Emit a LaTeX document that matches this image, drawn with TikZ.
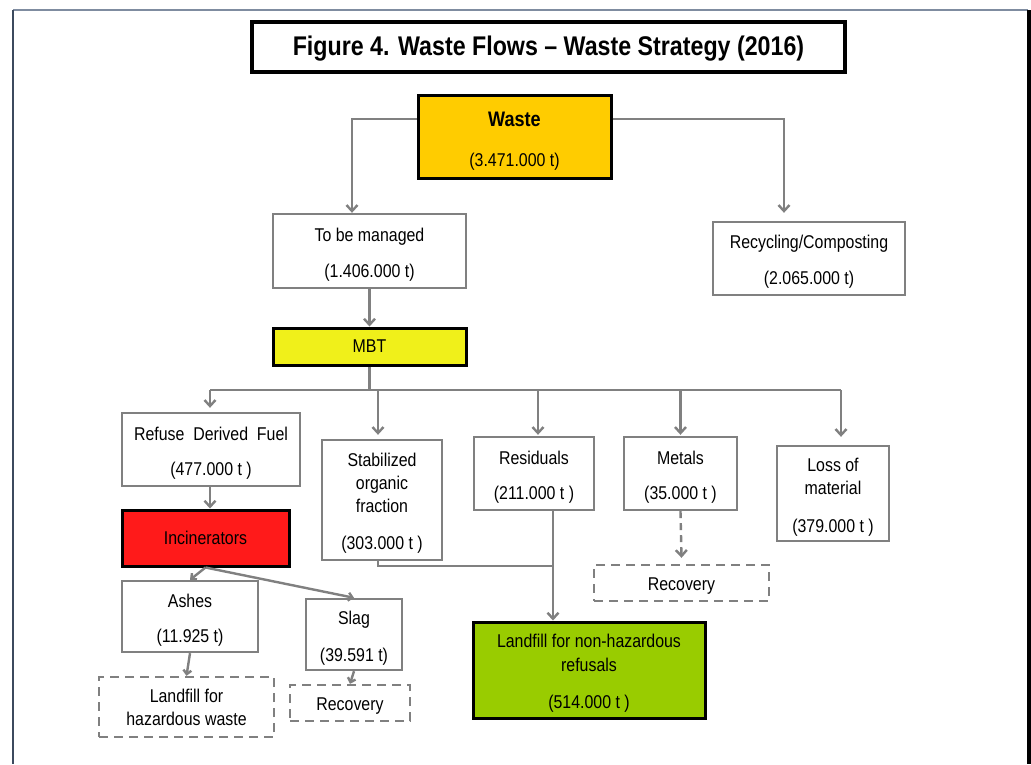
\documentclass[tikz,border=0pt]{standalone}
\usepackage{fontspec}
\setmainfont{Liberation Sans}[FakeStretch=0.86]
\usetikzlibrary{arrows.meta,calc}
\definecolor{lgray}{RGB}{128,128,128}
\definecolor{wasteor}{RGB}{255,204,0}
\definecolor{mbty}{RGB}{240,240,26}
\definecolor{incred}{RGB}{255,26,26}
\definecolor{lgreen}{RGB}{153,204,0}
\definecolor{framel}{RGB}{60,74,94}
\definecolor{framet}{RGB}{127,140,160}
\newcommand{\myts}{\rule{0pt}{20pt}}
\begin{document}
\begin{tikzpicture}[x=1pt,y=-1pt,
  box/.style={draw=lgray,line width=2.4pt,fill=white,inner sep=0pt,align=center,
    font=\fontsize{18.5}{20}\selectfont},
  dbox/.style={box,dash pattern=on 9pt off 6pt},
  hbox/.style={box,draw=black,line width=3pt},
  conn/.style={draw=lgray,line width=2.4pt},
  arr/.style={conn,-{Straight Barb[length=6pt,width=11pt]}},
  sarr/.style={conn,-{Straight Barb[length=4pt,width=8pt]}}]
\useasboundingbox (0,0) rectangle (1031,764);
\fill[white] (0,0) rectangle (1031,764);
% outer frame
\draw[framet,line width=1.5pt] (13,10) -- (1028,10);
\draw[framel,line width=2pt] (13,10) -- (13,764);
\draw[black,line width=3.5pt] (1029.2,10) -- (1029.2,764);
% title
\node[hbox,line width=4pt,minimum width=593pt,minimum height=50pt,
  font=\bfseries\fontsize{27}{30}\selectfont] (title) at (548.5,47)
  {\rule{0pt}{23pt}Figure 4. Waste Flows – Waste Strategy (2016)};
% nodes
\node[hbox,fill=wasteor,minimum width=193pt,minimum height=83pt] (waste) at (514.5,136.5)
  {\rule{0pt}{23pt}{\bfseries\fontsize{21}{22}\selectfont Waste}\\[20pt](3.471.000 t)};
\node[box,minimum width=193pt,minimum height=74pt] (tbm) at (369.5,251)
  {\myts To be managed\\[16pt](1.406.000 t)};
\node[box,minimum width=192pt,minimum height=73pt] (rc) at (809,258.5)
  {\myts Recycling/Composting\\[16pt](2.065.000 t)};
\node[hbox,fill=mbty,minimum width=193pt,minimum height=37pt] (mbt) at (369.5,346.5) {MBT};
\node[box,minimum width=178pt,minimum height=73pt] (rdf) at (211,449.5)
  {\myts Refuse\ \ Derived\ \ Fuel\\[15pt](477.000 t )};
\node[box,minimum width=120pt,minimum height=120pt] (sof) at (382,500)
  {\myts Stabilized\\[3pt]organic\\[3pt]fraction\\[17pt](303.000 t )};
\node[box,minimum width=120pt,minimum height=73pt] (res) at (534,473.5)
  {\myts Residuals\\[15pt](211.000 t )};
\node[box,minimum width=113pt,minimum height=73pt] (met) at (680.5,473.5)
  {\myts Metals\\[15pt](35.000 t )};
\node[box,minimum width=112pt,minimum height=95pt] (loss) at (833,493.5)
  {\myts Loss of\\[3pt]material\\[18pt](379.000 t )};
\node[dbox,minimum width=175pt,minimum height=36pt] (rec1) at (681.5,583) {\rule{0pt}{19pt}Recovery};
\node[hbox,fill=incred,minimum width=167pt,minimum height=56pt] (inc) at (205.5,538) {Incinerators};
\node[box,minimum width=136pt,minimum height=71pt] (ashes) at (190,616.5)
  {\myts Ashes\\[15pt](11.925 t)};
\node[box,minimum width=96pt,minimum height=71pt] (slag) at (354,634.5)
  {\myts Slag\\[17pt](39.591 t)};
\node[dbox,minimum width=175pt,minimum height=60pt] (lhw) at (186.5,707)
  {Landfill for\\[3pt]hazardous waste};
\node[dbox,minimum width=120pt,minimum height=36pt] (rec2) at (350,703) {\rule{0pt}{19pt}Recovery};
\node[hbox,fill=lgreen,minimum width=232pt,minimum height=96pt] (lnh) at (589,670)
  {\myts Landfill for non-hazardous\\[4pt]refusals\\[17pt](514.000 t )};
% coordinates
\coordinate (busL) at (210,390);
\coordinate (busR) at (841,390);
\coordinate (join) at (553,566);
% connectors
\draw[arr] (waste.170) -| ([xshift=-17.5pt]tbm.north);
\draw[arr] (waste.10) -| ([xshift=-25pt,yshift=8pt]rc.north);
\draw[arr] (tbm) -- (mbt);
\draw[conn] (mbt.south) -- (mbt.south |- busL);
\draw[conn] (busL) -- (busR);
\draw[arr] (busL) -- ([yshift=4pt]rdf.north -| busL);
\draw[arr] ([xshift=-4pt]sof.north |- busL) -- ([xshift=-4pt,yshift=4pt]sof.north);
\draw[arr] ([xshift=4pt]res.north |- busL) -- ([xshift=4pt,yshift=1pt]res.north);
\draw[arr] (met.north |- busL) -- ([yshift=1pt]met.north);
\draw[arr] (busR) -- ([yshift=8pt]loss.north -| busR);
\draw[arr] (rdf.south -| busL) -- (inc.north -| busL);
\draw[sarr] (inc.south) -- (ashes.north);
\draw[sarr] (inc.south) -- (slag.north);
\draw[sarr] (ashes.south) -- (lhw.north);
\draw[sarr] (slag.south) -- (rec2.north);
\draw[arr,dash pattern=on 7pt off 5pt] (met.south) -- ([yshift=6pt]rec1.north);
\draw[arr] ([xshift=19pt]res.south) -- (lnh.north -| join);
\draw[conn] ([xshift=-4pt]sof.south) |- (join);
\end{tikzpicture}
\end{document}
